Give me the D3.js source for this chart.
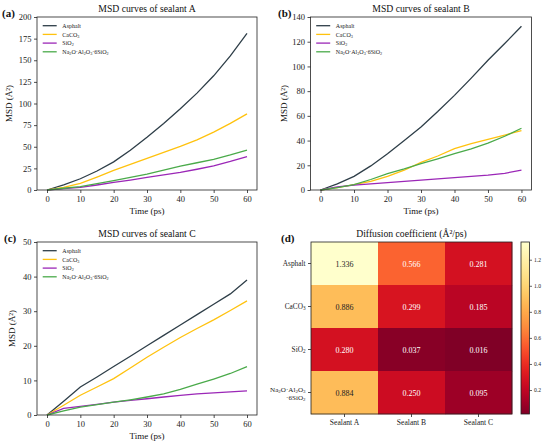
<!DOCTYPE html>
<html>
<head>
<meta charset="utf-8">
<script src="https://cdn.jsdelivr.net/npm/d3@7"></script>
<style>
  body { margin: 0; background: #fff; }
  svg { display: block; font-family: "Liberation Serif", "Times New Roman", serif; }
</style>
</head>
<body>
<div id="chart"></div>
<script>
// time axis (ps)
const times = [0, 5, 10, 15, 20, 25, 30, 35, 40, 45, 50, 55, 60];
const timeTicks = [0, 10, 20, 30, 40, 50, 60];
const materials = ["Asphalt", "CaCO_3", "SiO_2", "Na_2O·Al_2O_3·6SiO_2"];
const lineColors = ["#2e3e48", "#ffc20e", "#9b27b7", "#4aaa4a"];

// sealant A
const msdA_asphalt = [0, 6, 13, 22, 32.5, 46, 61, 77, 94, 112, 132, 155, 181];
const msdA_caco3 = [0, 3, 7.7, 15, 22.7, 29.5, 36.5, 43.5, 50.5, 58, 67, 77, 88];
const msdA_sio2 = [0, 1.5, 3, 5.8, 8.9, 11.5, 14.5, 17.5, 20.4, 24, 28, 33, 38.5];
const msdA_naal = [0, 2, 4, 7.3, 10.8, 14.5, 18.3, 23, 27.7, 31.5, 35.5, 40.5, 46];
const ticksA = [0, 25, 50, 75, 100, 125, 150, 175, 200];

// sealant B
const msdB_asphalt = [0, 5, 11, 19.5, 29.4, 40, 51, 63.5, 76.6, 90.5, 105, 118.5, 132.5];
const msdB_caco3 = [0, 2, 4.3, 7, 11, 16, 22.4, 27.5, 33.5, 37.5, 41, 44.5, 48];
const msdB_sio2 = [0, 2.5, 4, 5, 6, 7, 8, 9, 10, 11, 12, 13.5, 16];
const msdB_naal = [0, 2, 4.3, 8.5, 13.2, 17, 21.3, 25.2, 29.4, 33.3, 38, 43.5, 50];
const ticksB = [0, 20, 40, 60, 80, 100, 120, 140];

// sealant C
const msdC_asphalt = [0, 4, 8.1, 11, 14, 17, 20, 23, 26, 29, 32, 35, 39];
const msdC_caco3 = [0, 2.8, 5.7, 8.1, 10.5, 13.6, 16.7, 19.6, 22.4, 25, 27.5, 30.2, 33];
const msdC_sio2 = [0, 1.9, 2.5, 3.1, 3.7, 4.2, 4.7, 5.2, 5.7, 6.1, 6.4, 6.7, 7];
const msdC_naal = [0, 1.2, 2.3, 3, 3.7, 4.4, 5.2, 6.1, 7.4, 8.9, 10.4, 12, 14];
const ticksC = [0, 10, 20, 30, 40, 50];

// diffusion coefficients (rows: materials, cols: sealants)
const sealants = ["Sealant A", "Sealant B", "Sealant C"];
const diffAsphalt = [1.336, 0.566, 0.281];
const diffCaco3 = [0.886, 0.299, 0.185];
const diffSio2 = [0.280, 0.037, 0.016];
const diffNaal = [0.884, 0.250, 0.095];
const cbarTicks = [0.2, 0.4, 0.6, 0.8, 1.0, 1.2];

const svg = d3.select("#chart").append("svg")
    .attr("width", 550)
    .attr("height", 448);

// writes "SiO_2" style strings with subscript digits
function richText(sel, str) {
    const parts = str.split(/(_\d)/);
    parts.forEach(p => {
        if (!p) return;
        if (p[0] === "_") {
            sel.append("tspan").attr("font-size", "70%").attr("baseline-shift", "-22%").text(p.slice(1));
        } else {
            sel.append("tspan").text(p);
        }
    });
}

// strip d3's default sans font off an axis group
function styleAxis(a, size) {
    a.attr("font-family", null).attr("font-size", null);
    a.select(".domain").remove();
    a.selectAll("text").attr("font-size", size).attr("fill", "#222");
    a.selectAll("line").attr("stroke", "#222").attr("stroke-width", 0.8);
}

function msdPanel(cfg) {
    const g = svg.append("g");
    const x = d3.scaleLinear().domain([-3, 63]).range([cfg.left, cfg.right]);
    const y = d3.scaleLinear().domain([0, d3.max(cfg.yticks)]).range([cfg.bottom, cfg.top]);

    const line = d3.line().x((d, i) => x(times[i])).y(d => y(d));
    cfg.series.forEach((s, i) => {
        g.append("path")
            .datum(s)
            .attr("fill", "none")
            .attr("stroke", lineColors[i])
            .attr("stroke-width", 1.3)
            .attr("d", line);
    });

    const xa = g.append("g")
        .attr("transform", `translate(0,${cfg.bottom})`)
        .call(d3.axisBottom(x).tickValues(timeTicks).tickSize(3).tickPadding(2.5));
    const ya = g.append("g")
        .attr("transform", `translate(${cfg.left},0)`)
        .call(d3.axisLeft(y).tickValues(cfg.yticks).tickSize(3).tickPadding(2.5));
    styleAxis(xa, 8.5);
    styleAxis(ya, 8.5);

    g.append("rect")
        .attr("x", cfg.left).attr("y", cfg.top)
        .attr("width", cfg.right - cfg.left).attr("height", cfg.bottom - cfg.top)
        .attr("fill", "none").attr("stroke", "#222").attr("stroke-width", 0.8);

    g.append("text")
        .attr("x", (cfg.left + cfg.right) / 2).attr("y", cfg.top - 5)
        .attr("text-anchor", "middle").attr("font-size", 9.7).attr("fill", "#111")
        .text(cfg.title);

    g.append("text")
        .attr("x", (cfg.left + cfg.right) / 2).attr("y", cfg.bottom + 24)
        .attr("text-anchor", "middle").attr("font-size", 9).attr("fill", "#111")
        .text("Time (ps)");

    g.append("text")
        .attr("transform", `translate(${cfg.labelX},${(cfg.top + cfg.bottom) / 2}) rotate(-90)`)
        .attr("text-anchor", "middle").attr("font-size", 9).attr("fill", "#111")
        .text("MSD (Å²)");

    g.append("text")
        .attr("x", cfg.tagX).attr("y", cfg.top + 0)
        .attr("font-size", 11).attr("font-weight", "bold").attr("fill", "#111")
        .text(cfg.tag);

    // legend
    const lg = g.append("g").attr("transform", `translate(${cfg.left},${cfg.top})`);
    materials.forEach((m, i) => {
        const yy = 8.7 + i * 8.7;
        lg.append("line")
            .attr("x1", 5.7).attr("x2", 19.7).attr("y1", yy).attr("y2", yy)
            .attr("stroke", lineColors[i]).attr("stroke-width", 1.3);
        const t = lg.append("text")
            .attr("x", 25.3).attr("y", yy + 2.1)
            .attr("font-size", 6).attr("fill", "#222");
        richText(t, m);
    });
}

msdPanel({ left: 37, right: 257, top: 17, bottom: 190, yticks: ticksA, labelX: 12,
    title: "MSD curves of sealant A", tag: "(a)", tagX: 2,
    series: [msdA_asphalt, msdA_caco3, msdA_sio2, msdA_naal] });
msdPanel({ left: 310.5, right: 531.5, top: 17, bottom: 190, yticks: ticksB, labelX: 287,
    title: "MSD curves of sealant B", tag: "(b)", tagX: 278,
    series: [msdB_asphalt, msdB_caco3, msdB_sio2, msdB_naal] });
msdPanel({ left: 37, right: 257, top: 242, bottom: 415, yticks: ticksC, labelX: 15,
    title: "MSD curves of sealant C", tag: "(c)", tagX: 4,
    series: [msdC_asphalt, msdC_caco3, msdC_sio2, msdC_naal] });

// heatmap panel (d)
const rows = [diffAsphalt, diffCaco3, diffSio2, diffNaal];
const hm = { left: 311, right: 512, top: 242, bottom: 414 };
const hx = d3.scaleBand().domain(sealants).range([hm.left, hm.right]);
const hy = d3.scaleBand().domain(materials).range([hm.top, hm.bottom]);
const allVals = rows.flat();
const vmin = d3.min(allVals), vmax = d3.max(allVals);
const color = d3.scaleSequential(t => d3.interpolateYlOrRd(1 - t)).domain([vmin, vmax]);

const hg = svg.append("g");
rows.forEach((r, i) => {
    r.forEach((v, j) => {
        hg.append("rect")
            .attr("x", hx(sealants[j])).attr("y", hy(materials[i]))
            .attr("width", hx.bandwidth() + 0.3).attr("height", hy.bandwidth() + 0.3)
            .attr("fill", color(v));
        hg.append("text")
            .attr("x", hx(sealants[j]) + hx.bandwidth() / 2)
            .attr("y", hy(materials[i]) + hy.bandwidth() / 2 + 3)
            .attr("text-anchor", "middle").attr("font-size", 8)
            .attr("fill", v > 0.6 ? "#222" : "#fff")
            .text(v.toFixed(3));
    });
});
hg.append("rect")
    .attr("x", hm.left).attr("y", hm.top)
    .attr("width", hm.right - hm.left).attr("height", hm.bottom - hm.top)
    .attr("fill", "none").attr("stroke", "#222").attr("stroke-width", 0.8);

const hxa = hg.append("g").attr("transform", `translate(0,${hm.bottom})`)
    .call(d3.axisBottom(hx).tickSize(3).tickPadding(2.5));
styleAxis(hxa, 7.6);

const hya = hg.append("g").attr("transform", `translate(${hm.left},0)`)
    .call(d3.axisLeft(hy).tickSize(3).tickFormat(""));
styleAxis(hya, 7.3);
materials.forEach((m, i) => {
    const cy = hy(m) + hy.bandwidth() / 2;
    if (i === 3) {
        const t1 = hg.append("text").attr("x", hm.left - 5.5).attr("y", cy - 1)
            .attr("text-anchor", "end").attr("font-size", 7.1).attr("fill", "#222");
        richText(t1, "Na_2O·Al_2O_3");
        const t2 = hg.append("text").attr("x", hm.left - 5.5).attr("y", cy + 7.2)
            .attr("text-anchor", "end").attr("font-size", 7.1).attr("fill", "#222");
        richText(t2, "·6SiO_2");
    } else {
        const t = hg.append("text").attr("x", hm.left - 5.5).attr("y", cy + 2.5)
            .attr("text-anchor", "end").attr("font-size", 7.3).attr("fill", "#222");
        richText(t, m);
    }
});

hg.append("text")
    .attr("x", (hm.left + hm.right) / 2).attr("y", hm.top - 5)
    .attr("text-anchor", "middle").attr("font-size", 9.7).attr("fill", "#111")
    .text("Diffusion coefficient (Å²/ps)");
hg.append("text")
    .attr("x", 281).attr("y", 242)
    .attr("font-size", 11).attr("font-weight", "bold").attr("fill", "#111")
    .text("(d)");

// colorbar
const cb = { left: 521, right: 529.5, top: 242, bottom: 414 };
const cy = d3.scaleLinear().domain([vmin, vmax]).range([cb.bottom, cb.top]);
const defs = svg.append("defs");
const grad = defs.append("linearGradient").attr("id", "cbgrad")
    .attr("x1", 0).attr("y1", 1).attr("x2", 0).attr("y2", 0);
d3.range(0, 1.0001, 0.05).forEach(t => {
    grad.append("stop").attr("offset", t).attr("stop-color", d3.interpolateYlOrRd(1 - t));
});
svg.append("rect")
    .attr("x", cb.left).attr("y", cb.top)
    .attr("width", cb.right - cb.left).attr("height", cb.bottom - cb.top)
    .attr("fill", "url(#cbgrad)").attr("stroke", "#222").attr("stroke-width", 0.8);
const cba = svg.append("g").attr("transform", `translate(${cb.right},0)`)
    .call(d3.axisRight(cy).tickValues(cbarTicks).tickFormat(d3.format(".1f")).tickSize(2.5).tickPadding(2));
styleAxis(cba, 5.6);
cba.selectAll("line").attr("stroke-width", 0.7);
</script>
</body>
</html>
